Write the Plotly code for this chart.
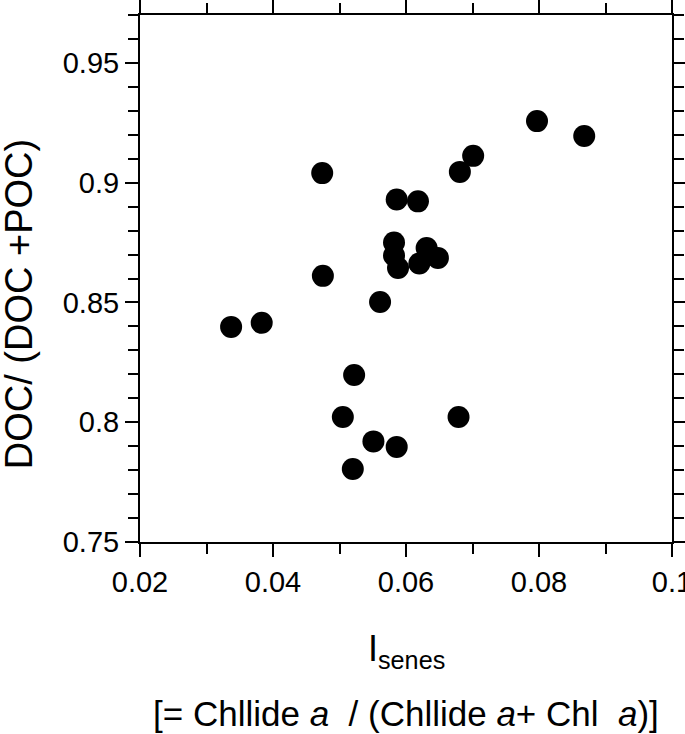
import plotly.graph_objects as go

# Data
isenes = [0.0337, 0.0383, 0.0474, 0.0475, 0.0561, 0.0586, 0.0618, 0.0582, 0.0582,
          0.0588, 0.0620, 0.0631, 0.0648, 0.0681, 0.0701, 0.0797, 0.0868,
          0.0522, 0.0505, 0.0551, 0.0586, 0.0520, 0.0679]
doc_ratio = [0.8398, 0.8415, 0.9040, 0.8611, 0.8502, 0.8930, 0.8922, 0.8750, 0.8696,
             0.8644, 0.8663, 0.8727, 0.8686, 0.9045, 0.9112, 0.9257, 0.9195,
             0.8197, 0.8022, 0.7920, 0.7897, 0.7805, 0.8022]

x_ticks = [0.02, 0.04, 0.06, 0.08, 0.1]
x_ticklabels = ["0.02", "0.04", "0.06", "0.08", "0.1"]
y_ticks = [0.75, 0.8, 0.85, 0.9, 0.95]
y_ticklabels = ["0.75", "0.8", "0.85", "0.9", "0.95"]

FONT = "Liberation Sans, Arial, sans-serif"

fig = go.Figure()
fig.add_trace(go.Scatter(
    x=isenes, y=doc_ratio, mode="markers",
    marker=dict(size=22, color="black", line=dict(width=0)),
    showlegend=False,
))

axis_common = dict(
    showline=True, linecolor="black", linewidth=2, mirror="allticks",
    ticks="outside", tickcolor="black", tickwidth=2,
    showgrid=False, zeroline=False, automargin=False,
    ticklabeloverflow="allow",
    tickfont=dict(family=FONT, size=29, color="black"),
)

fig.update_xaxes(
    range=[0.02, 0.1], tickvals=x_ticks, ticktext=x_ticklabels, ticklen=13,
    minor=dict(dtick=0.01, tick0=0.02, ticks="outside", ticklen=10, tickwidth=2, tickcolor="black", showgrid=False),
    **axis_common,
)
fig.update_yaxes(
    range=[0.75, 0.97], tickvals=y_ticks, ticktext=y_ticklabels, ticklen=13,
    minor=dict(dtick=0.01, tick0=0.75, ticks="outside", ticklen=10, tickwidth=2, tickcolor="black", showgrid=False),
    **axis_common,
)

fig.add_annotation(
    text="I<sub>senes</sub>", xref="paper", yref="paper", x=0.5, y=-0.206,
    showarrow=False, font=dict(family=FONT, size=36, color="black"),
    xanchor="center", yanchor="middle",
)
fig.add_annotation(
    text="[= Chllide <i>a</i>  / (Chllide <i>a</i>+ Chl  <i>a</i>)]",
    xref="paper", yref="paper", x=0.5, y=-0.326,
    showarrow=False, font=dict(family=FONT, size=35, color="black"),
    xanchor="center", yanchor="middle",
)
fig.add_annotation(
    text="DOC/ (DOC +POC)", xref="paper", yref="paper", x=-0.227, y=0.4516,
    textangle=-90, showarrow=False, font=dict(family=FONT, size=38, color="black"),
    xanchor="center", yanchor="middle",
)

fig.update_layout(
    width=685, height=734,
    margin=dict(l=140, r=13, t=15, b=192),
    paper_bgcolor="white", plot_bgcolor="white",
)

# remove the default 8px page margin so the figure fills the window exactly
fig.write_html("out.html", config={"displayModeBar": False},
               post_script="document.body.style.margin='0';")
